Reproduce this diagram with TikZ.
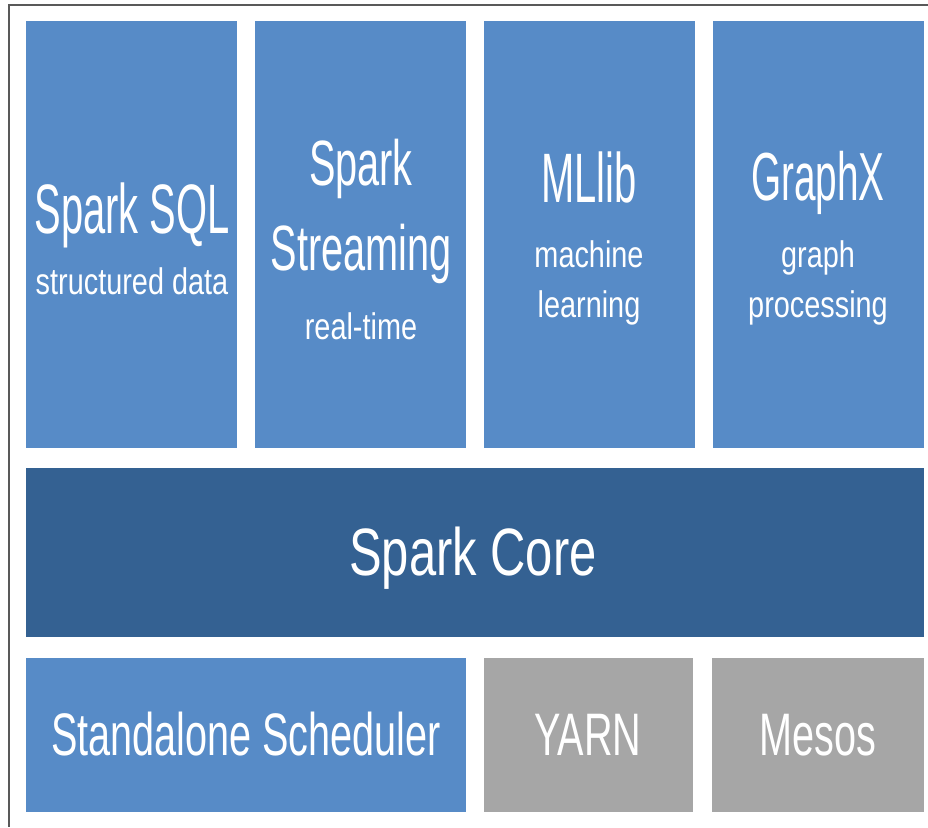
\documentclass[tikz,border=0pt]{standalone}
\usepackage{fontspec}
\setmainfont{Liberation Sans}
\newfontfamily\toplabel[FakeStretch=0.57]{Liberation Sans}
\newfontfamily\streamlabel[FakeStretch=0.62]{Liberation Sans}
\newfontfamily\sublabel[FakeStretch=0.78]{Liberation Sans}
\newfontfamily\corelabel[FakeStretch=0.73]{Liberation Sans}
\newfontfamily\runlabel[FakeStretch=0.66]{Liberation Sans}
\usetikzlibrary{positioning}
\definecolor{sparkblue}{RGB}{87,139,199}
\definecolor{coreblue}{RGB}{52,97,146}
\definecolor{mgrgray}{RGB}{166,166,166}
\tikzstyle{box} = [anchor=north west,inner sep=0pt,outer sep=0pt]
\tikzstyle{libbox} = [box,fill=sparkblue,minimum width=211,minimum height=427]
\tikzstyle{runbox} = [box,minimum height=154]
\tikzstyle{txt} = [anchor=base,inner sep=0pt,text=white]

\begin{document}
\begin{tikzpicture}[x=1pt,y=-1pt]
\useasboundingbox (0,0) rectangle (928,827);
\draw[line width=1.6pt,gray!70!black] (928,5) -- (9,5) -- (9,827);
% libraries on top
\node[libbox] (sql) at (26,21) {};
\node[libbox] (stream) at (255,21) {};
\node[libbox] (mllib) at (484,21) {};
\node[libbox] (graphx) at (713,21) {};
\node[txt,font=\toplabel\fontsize{70}{70}\selectfont] (sqlA) at (132,233) {Spark SQL};
\node[txt,font=\sublabel\fontsize{37}{37}\selectfont] (sqlB) at (132,294) {structured data};
\node[txt,font=\streamlabel\fontsize{64}{64}\selectfont] (streamA) at (361,185) {Spark};
\node[txt,font=\streamlabel\fontsize{64}{64}\selectfont] (streamB) at (361,270) {Streaming};
\node[txt,font=\sublabel\fontsize{37}{37}\selectfont] (streamC) at (361,339) {real-time};
\node[txt,font=\toplabel\fontsize{70}{70}\selectfont] (mllibA) at (589,202) {MLlib};
\node[txt,font=\sublabel\fontsize{37}{37}\selectfont] (mllibB) at (589,267) {machine};
\node[txt,font=\sublabel\fontsize{37}{37}\selectfont] (mllibC) at (589,317) {learning};
\node[txt,font=\toplabel\fontsize{68}{68}\selectfont] (graphxA) at (818,200) {GraphX};
\node[txt,font=\sublabel\fontsize{37}{37}\selectfont] (graphxB) at (818,267) {graph};
\node[txt,font=\sublabel\fontsize{37}{37}\selectfont] (graphxC) at (818,317) {processing};
% core
\node[box,fill=coreblue,minimum width=898,minimum height=169] (core) at (26,468) {};
\node[txt,font=\corelabel\fontsize{67}{67}\selectfont] (coreA) at (473,575) {Spark Core};
% cluster managers
\node[runbox,fill=sparkblue,minimum width=440] (standalone) at (26,658) {};
\node[runbox,fill=mgrgray,minimum width=209] (yarn) at (484,658) {};
\node[runbox,fill=mgrgray,minimum width=212] (mesos) at (712,658) {};
\node[txt,font=\runlabel\fontsize{60}{60}\selectfont] (standaloneA) at (246,755) {Standalone Scheduler};
\node[txt,font=\runlabel\fontsize{60}{60}\selectfont] (yarnA) at (588,755) {YARN};
\node[txt,font=\runlabel\fontsize{60}{60}\selectfont] (mesosA) at (818,755) {Mesos};
\end{tikzpicture}
\end{document}
